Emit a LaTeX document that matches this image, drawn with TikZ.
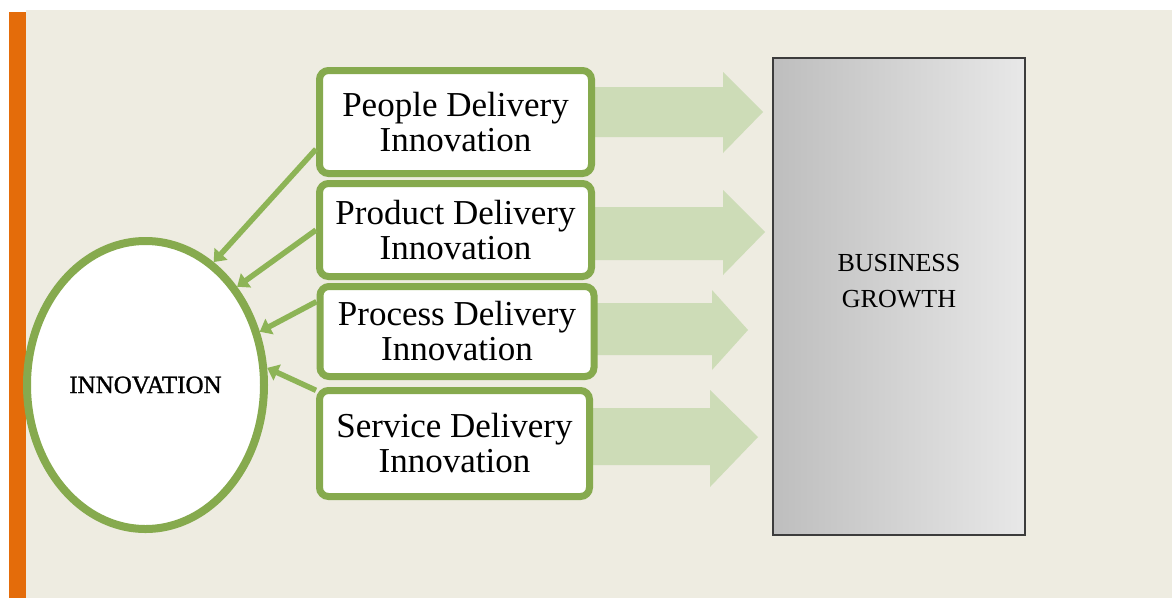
\documentclass[tikz,border=0pt]{standalone}
\usepackage{fontspec}
\setmainfont{Liberation Serif}
\usetikzlibrary{shapes.geometric,arrows.meta}
\definecolor{paper}{RGB}{238,236,225}
\definecolor{barorange}{RGB}{228,108,10}
\definecolor{leaf}{RGB}{134,170,78}
\definecolor{leaflight}{RGB}{141,180,86}
\definecolor{sage}{RGB}{205,220,183}
\definecolor{frame}{RGB}{60,60,60}
\definecolor{greydark}{RGB}{190,190,190}
\definecolor{greylight}{RGB}{232,232,232}
\begin{document}
\begin{tikzpicture}[x=1pt,y=-1pt,
  deliverybox/.style={draw=leaf, line width=7pt, fill=white, rounded corners=9pt,
    inner sep=0pt, align=center, font=\fontsize{35}{35}\selectfont},
  corebubble/.style={ellipse, draw=leaf, line width=8pt, fill=white, inner sep=0pt,
    font=\fontsize{25}{25}\selectfont\addfontfeature{FakeBold=1.2}},
  growthbox/.style={draw=frame, line width=2.5pt, left color=greydark, right color=greylight,
    inner sep=0pt},
  feedarrow/.style={draw=leaflight, line width=5.5pt, -{Triangle[length=11pt,width=17pt]}},
  bigarrow/.style={fill=sage}
]
\useasboundingbox (0,0) rectangle (1172,598);
% page, backdrop and side bar
\fill[white] (0,0) rectangle (1172,598);
\fill[paper] (26,10) rectangle (1172,598);
\fill[barorange] (9,12) rectangle (26,598);

% broad arrows towards the growth block
\fill[bigarrow] (590,87) -- (723,87) -- (723,72) -- (763,112) -- (723,153) -- (723,137) -- (590,137) -- cycle;
\fill[bigarrow] (590,207) -- (723,207) -- (723,190) -- (765,232) -- (723,275) -- (723,260) -- (590,260) -- cycle;
\fill[bigarrow] (590,303) -- (712,303) -- (712,290) -- (748,330) -- (712,370) -- (712,355) -- (590,355) -- cycle;
\fill[bigarrow] (590,408) -- (710,408) -- (710,390) -- (758,437) -- (710,487) -- (710,465) -- (590,465) -- cycle;

% central bubble
\node[corebubble, minimum width=237pt, minimum height=288pt] (inn) at (145.5,385) {INNOVATION};

% the four delivery boxes
\node[deliverybox, minimum width=272pt, minimum height=103pt] (ppl) at (455.5,122) {People Delivery\\Innovation};
\node[deliverybox, minimum width=272pt, minimum height=93pt] (prd) at (455.5,230) {Product Delivery\\Innovation};
\node[deliverybox, minimum width=274pt, minimum height=90pt] (prc) at (457,331.5) {Process Delivery\\Innovation};
\node[deliverybox, minimum width=270pt, minimum height=106pt] (srv) at (454.5,443.5) {Service Delivery\\Innovation};

% growth block
\node[growthbox, minimum width=252pt, minimum height=477pt] (bg) at (899,296.5) {};
\node[font=\fontsize{26}{36}\selectfont, align=center, inner sep=0pt] (bgtext) at (899,281.5) {BUSINESS\\GROWTH};

% feedback arrows into the bubble
\draw[feedarrow] (ppl.191.6) -- (inn.61);
\draw[feedarrow] (prd.180) -- (inn.47);
\draw[feedarrow] (prc.168) -- (inn.25);
\draw[feedarrow] (srv.159) -- (inn.8);
\end{tikzpicture}
\end{document}
